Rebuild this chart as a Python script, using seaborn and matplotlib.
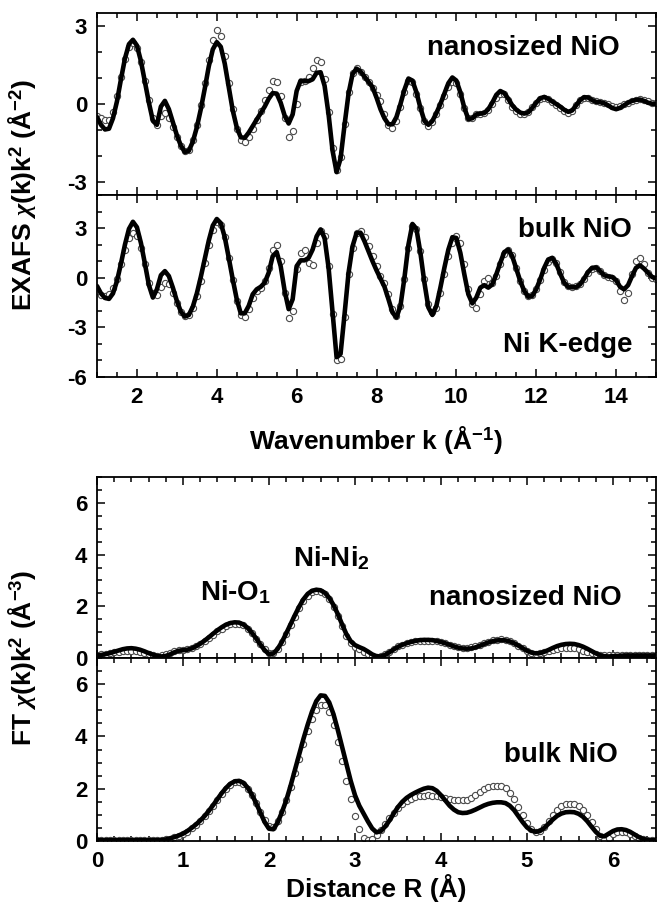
import numpy as np
import pandas as pd
import matplotlib
matplotlib.use("Agg")
import matplotlib.pyplot as plt
from matplotlib.ticker import MultipleLocator
import seaborn as sns

# ---------------- data ----------------
k_grid = np.round(np.arange(1.0, 15.05, 0.1), 2)
r_grid = np.round(np.arange(0.0, 6.501, 0.05), 2)

nano_fit_k = [
    -0.50, -0.80, -0.98, -0.95, -0.55, 0.10, 0.95, 1.75, 2.30, 2.47,
    2.25, 1.65, 0.85, 0.05, -0.65, -0.80, -0.10, 0.12, -0.20, -0.70,
    -1.20, -1.60, -1.85, -1.80, -1.45, -0.90, -0.20, 0.60, 1.45, 2.10,
    2.38, 2.20, 1.55, 0.65, -0.25, -0.90, -1.28, -1.30, -1.10, -0.85,
    -0.60, -0.35, -0.10, 0.20, 0.42, 0.40, 0.05, -0.45, -0.75, -0.40,
    0.50, 0.90, 0.88, 0.88, 0.95, 1.20, 1.22, 0.70, -0.40, -1.80,
    -2.62, -2.10, -0.80, 0.40, 1.15, 1.36, 1.25, 1.05, 0.85, 0.65,
    0.25, -0.20, -0.55, -0.78, -0.78, -0.50, 0.00, 0.55, 0.98, 0.90,
    0.45, -0.15, -0.65, -0.80, -0.65, -0.35, 0.00, 0.40, 0.80, 1.02,
    0.90, 0.45, -0.15, -0.58, -0.55, -0.40, -0.37, -0.35, -0.20, 0.05,
    0.35, 0.50, 0.42, 0.20, -0.05, -0.22, -0.33, -0.37, -0.32, -0.15,
    0.05, 0.22, 0.27, 0.20, 0.10, 0.00, -0.10, -0.22, -0.30, -0.25,
    -0.05, 0.15, 0.26, 0.25, 0.15, 0.08, 0.07, 0.03, -0.05, -0.15,
    -0.20, -0.15, -0.05, 0.05, 0.12, 0.16, 0.17, 0.12, 0.05, 0.01,
    0.00]

nano_dat_k = [
    -0.45, -0.55, -0.62, -0.60, -0.30, 0.30, 1.05, 1.75, 2.20, 2.35,
    2.15, 1.60, 0.90, 0.15, -0.55, -0.82, -0.45, -0.35, -0.55, -0.90,
    -1.25, -1.60, -1.82, -1.78, -1.40, -0.80, -0.05, 0.80, 1.70, 2.45,
    2.85, 2.60, 1.85, 0.80, -0.20, -0.95, -1.38, -1.45, -1.25, -0.95,
    -0.60, -0.25, 0.15, 0.55, 0.90, 0.85, 0.30, -0.55, -1.25, -1.05,
    0.00, 0.85, 0.90, 1.05, 1.40, 1.68, 1.60, 0.95, -0.30, -1.70,
    -2.55, -2.05, -0.75, 0.45, 1.20, 1.40, 1.25, 1.05, 0.85, 0.60,
    0.35, 0.10, -0.40, -0.80, -0.92, -0.65, -0.10, 0.45, 0.88, 0.85,
    0.40, -0.15, -0.65, -0.85, -0.70, -0.40, -0.05, 0.30, 0.65, 0.85,
    0.80, 0.40, -0.15, -0.55, -0.55, -0.40, -0.37, -0.33, -0.22, 0.00,
    0.25, 0.40, 0.38, 0.15, -0.10, -0.28, -0.37, -0.38, -0.30, -0.12,
    0.05, 0.18, 0.22, 0.18, 0.08, -0.05, -0.15, -0.28, -0.35, -0.25,
    -0.02, 0.15, 0.22, 0.22, 0.15, 0.10, 0.08, 0.05, 0.00, -0.08,
    -0.12, -0.08, 0.00, 0.05, 0.10, 0.15, 0.18, 0.15, 0.10, 0.05,
    0.02]

bulk_fit_k = [
    -0.50, -0.95, -1.22, -1.28, -0.95, -0.20, 0.85, 2.00, 2.95, 3.38,
    3.05, 2.10, 0.85, -0.45, -1.20, -0.70, 0.15, 0.40, 0.10, -0.60,
    -1.40, -2.05, -2.35, -2.25, -1.75, -0.95, 0.05, 1.15, 2.25, 3.15,
    3.55, 3.30, 2.45, 1.20, -0.10, -1.30, -2.15, -2.15, -1.70, -1.00,
    -0.70, -0.55, -0.30, 0.30, 1.30, 1.55, 0.70, -0.80, -1.90, -1.30,
    0.70, 1.05, 1.05, 1.20, 1.70, 2.50, 2.92, 2.40, 0.60, -2.10,
    -4.80, -4.60, -2.20, 0.30, 1.90, 2.70, 2.72, 2.20, 1.60, 1.00,
    0.45, -0.05, -0.55, -1.30, -2.10, -2.40, -1.70, 0.00, 2.00, 3.25,
    2.95, 1.50, -0.30, -1.80, -2.25, -1.70, -0.60, 0.60, 1.70, 2.45,
    2.40, 1.50, 0.20, -1.00, -1.55, -1.20, -0.60, -0.45, -0.60, -0.40,
    0.20, 0.90, 1.55, 1.70, 1.30, 0.55, -0.20, -0.80, -1.15, -1.10,
    -0.70, -0.10, 0.60, 1.10, 1.20, 0.85, 0.25, -0.30, -0.55, -0.58,
    -0.57, -0.40, -0.05, 0.35, 0.60, 0.62, 0.40, 0.15, 0.08, 0.05,
    -0.15, -0.55, -0.70, -0.45, 0.10, 0.60, 0.75, 0.55, 0.30, 0.05,
    -0.05]

bulk_dat_k = [
    -0.80, -1.05, -1.10, -1.00, -0.65, -0.05, 0.80, 1.65, 2.40, 2.70,
    2.50, 1.80, 0.80, -0.30, -0.95, -1.05, -0.55, -0.30, -0.40, -0.90,
    -1.50, -2.05, -2.30, -2.25, -1.80, -1.10, -0.20, 0.90, 2.00, 2.90,
    3.35, 3.20, 2.45, 1.20, -0.15, -1.40, -2.25, -2.40, -1.90, -1.20,
    -0.80, -0.60, -0.20, 0.60, 1.70, 2.00, 1.00, -0.90, -2.45, -2.00,
    0.50, 1.50, 1.65, 0.90, 0.75, 2.10, 2.85, 2.50, 0.70, -2.20,
    -5.00, -4.90, -2.40, 0.20, 1.80, 2.70, 2.85, 2.45, 1.90, 1.30,
    0.70, 0.10, -0.30, -1.00, -1.90, -2.30, -1.70, -0.10, 1.80, 3.10,
    2.95, 1.60, -0.10, -1.60, -2.10, -1.80, -0.90, 0.20, 1.30, 2.10,
    2.55, 2.10, 0.80, -0.70, -1.60, -1.80, -1.00, -0.20, 0.00, -0.30,
    0.10, 0.80, 1.45, 1.65, 1.35, 0.60, -0.20, -0.80, -1.10, -1.05,
    -0.70, -0.15, 0.45, 0.95, 1.15, 0.90, 0.35, -0.25, -0.50, -0.55,
    -0.50, -0.35, -0.05, 0.30, 0.55, 0.60, 0.40, 0.15, 0.05, 0.00,
    -0.20, -0.80, -1.35, -0.90, 0.20, 1.00, 1.20, 0.80, 0.30, 0.00,
    -0.10]

nano_fit_r = [
    0.10, 0.12, 0.15, 0.19, 0.24, 0.29, 0.34, 0.37, 0.38, 0.36,
    0.32, 0.26, 0.19, 0.13, 0.08, 0.06, 0.08, 0.14, 0.22, 0.28,
    0.30, 0.32, 0.37, 0.45, 0.55, 0.67, 0.80, 0.94, 1.07, 1.19,
    1.29, 1.35, 1.38, 1.37, 1.30, 1.17, 0.98, 0.76, 0.52, 0.30,
    0.15, 0.17, 0.35, 0.62, 0.95, 1.30, 1.65, 1.98, 2.27, 2.48,
    2.60, 2.64, 2.62, 2.52, 2.33, 2.05, 1.70, 1.30, 0.92, 0.65,
    0.50, 0.42, 0.35, 0.25, 0.14, 0.07, 0.06, 0.12, 0.22, 0.33,
    0.43, 0.51, 0.57, 0.62, 0.66, 0.69, 0.70, 0.70, 0.69, 0.66,
    0.62, 0.57, 0.51, 0.45, 0.40, 0.37, 0.36, 0.37, 0.41, 0.47,
    0.54, 0.60, 0.65, 0.68, 0.69, 0.68, 0.64, 0.57, 0.48, 0.38,
    0.28, 0.21, 0.18, 0.19, 0.24, 0.31, 0.39, 0.46, 0.51, 0.54,
    0.55, 0.54, 0.50, 0.44, 0.36, 0.27, 0.18, 0.11, 0.07, 0.06,
    0.07, 0.08, 0.09, 0.10, 0.10, 0.10, 0.10, 0.10, 0.10, 0.10,
    0.10]

nano_dat_r = [
    0.12, 0.14, 0.16, 0.19, 0.22, 0.25, 0.27, 0.28, 0.28, 0.26,
    0.23, 0.19, 0.15, 0.11, 0.09, 0.10, 0.14, 0.20, 0.26, 0.30,
    0.32, 0.34, 0.38, 0.45, 0.54, 0.65, 0.77, 0.90, 1.03, 1.14,
    1.23, 1.30, 1.33, 1.32, 1.26, 1.14, 0.96, 0.75, 0.53, 0.33,
    0.20, 0.20, 0.36, 0.62, 0.93, 1.27, 1.60, 1.92, 2.20, 2.41,
    2.54, 2.58, 2.56, 2.46, 2.27, 1.98, 1.62, 1.22, 0.85, 0.58,
    0.42, 0.33, 0.25, 0.16, 0.08, 0.04, 0.06, 0.14, 0.25, 0.36,
    0.45, 0.52, 0.57, 0.61, 0.64, 0.66, 0.67, 0.67, 0.66, 0.64,
    0.61, 0.57, 0.52, 0.47, 0.43, 0.40, 0.39, 0.41, 0.45, 0.51,
    0.57, 0.63, 0.68, 0.71, 0.72, 0.70, 0.65, 0.57, 0.47, 0.37,
    0.27, 0.20, 0.17, 0.18, 0.22, 0.27, 0.32, 0.36, 0.39, 0.40,
    0.40, 0.38, 0.34, 0.29, 0.23, 0.18, 0.14, 0.12, 0.11, 0.11,
    0.11, 0.11, 0.11, 0.11, 0.11, 0.11, 0.11, 0.11, 0.11, 0.11,
    0.11]

bulk_fit_r = [
    0.03, 0.03, 0.03, 0.03, 0.03, 0.03, 0.03, 0.03, 0.03, 0.03,
    0.03, 0.03, 0.03, 0.03, 0.03, 0.04, 0.06, 0.10, 0.15, 0.21,
    0.28, 0.38, 0.50, 0.63, 0.78, 0.95, 1.15, 1.37, 1.60, 1.83,
    2.03, 2.19, 2.28, 2.30, 2.23, 2.05, 1.78, 1.45, 1.08, 0.72,
    0.47, 0.45, 0.70, 1.10, 1.55, 2.10, 2.70, 3.30, 3.90, 4.45,
    4.95, 5.35, 5.57, 5.55, 5.30, 4.85, 4.25, 3.60, 2.95, 2.30,
    1.75, 1.35, 1.05, 0.75, 0.48, 0.33, 0.38, 0.55, 0.78, 1.05,
    1.30, 1.50, 1.65, 1.76, 1.85, 1.93, 2.00, 2.04, 2.02, 1.92,
    1.75, 1.55, 1.35, 1.20, 1.10, 1.07, 1.08, 1.13, 1.20, 1.28,
    1.36, 1.42, 1.46, 1.48, 1.48, 1.45, 1.35, 1.18, 0.95, 0.72,
    0.52, 0.40, 0.35, 0.38, 0.50, 0.66, 0.82, 0.96, 1.05, 1.10,
    1.11, 1.10, 1.04, 0.93, 0.76, 0.55, 0.35, 0.20, 0.18, 0.28,
    0.38, 0.44, 0.45, 0.42, 0.35, 0.25, 0.15, 0.08, 0.04, 0.03,
    0.03]

bulk_dat_r = [
    0.03, 0.03, 0.03, 0.03, 0.03, 0.03, 0.03, 0.03, 0.03, 0.03,
    0.03, 0.03, 0.03, 0.03, 0.03, 0.04, 0.06, 0.09, 0.14, 0.20,
    0.27, 0.36, 0.48, 0.62, 0.77, 0.94, 1.13, 1.35, 1.57, 1.80,
    2.00, 2.15, 2.24, 2.25, 2.18, 2.00, 1.75, 1.45, 1.12, 0.80,
    0.58, 0.55, 0.75, 1.10, 1.55, 2.05, 2.60, 3.15, 3.70, 4.20,
    4.65, 5.00, 5.22, 5.22, 4.95, 4.45, 3.80, 3.05, 2.30, 1.60,
    0.95, 0.45, 0.12, 0.02, 0.08, 0.22, 0.42, 0.65, 0.88, 1.08,
    1.25, 1.40, 1.52, 1.62, 1.68, 1.72, 1.74, 1.75, 1.74, 1.72,
    1.68, 1.64, 1.60, 1.57, 1.55, 1.55, 1.58, 1.65, 1.75, 1.86,
    1.97, 2.05, 2.10, 2.12, 2.10, 2.02, 1.85, 1.60, 1.30, 0.98,
    0.68, 0.45, 0.35, 0.40, 0.55, 0.78, 1.00, 1.20, 1.33, 1.40,
    1.42, 1.40, 1.32, 1.18, 0.98, 0.72, 0.45, 0.18, 0.02, 0.10,
    0.25, 0.33, 0.35, 0.33, 0.28, 0.20, 0.12, 0.06, 0.03, 0.02,
    0.02]

k_ticks = [2, 4, 6, 8, 10, 12, 14]
r_ticks = [0, 1, 2, 3, 4, 5, 6]

# ---------------- style ----------------
sns.set_theme(style="ticks")
plt.rcParams["font.family"] = ["Liberation Sans", "DejaVu Sans"]
plt.rcParams["font.weight"] = "bold"
plt.rcParams["mathtext.fontset"] = "custom"
plt.rcParams["mathtext.rm"] = "Liberation Sans:bold"
plt.rcParams["mathtext.bf"] = "Liberation Sans:bold"
plt.rcParams["mathtext.it"] = "Liberation Serif:italic"
plt.rcParams["axes.unicode_minus"] = False
plt.rcParams["axes.linewidth"] = 1.3
plt.rcParams["axes.edgecolor"] = "black"
for key in ("text.color", "axes.labelcolor", "xtick.color", "ytick.color"):
    plt.rcParams[key] = "black"

fig = plt.figure(figsize=(6.64, 9.18), dpi=100)
L, W = 97 / 664, 559 / 664
ax1 = fig.add_axes([L, 1 - 195 / 918, W, 182 / 918])
ax2 = fig.add_axes([L, 1 - 377 / 918, W, 182 / 918])
ax3 = fig.add_axes([L, 1 - 658 / 918, W, 181 / 918])
ax4 = fig.add_axes([L, 1 - 841 / 918, W, 183 / 918])

def draw(ax, x, dat, fit):
    df = pd.DataFrame({"x": x, "dat": dat, "fit": fit})
    sns.scatterplot(data=df, x="x", y="dat", ax=ax, marker="o", s=20,
                    facecolor="white", edgecolor="#4a4a4a", linewidth=0.8,
                    zorder=2, legend=False)
    sns.lineplot(data=df, x="x", y="fit", ax=ax, color="black", lw=3.3,
                 estimator=None, sort=False, zorder=3, legend=False)
    ax.set_xlabel("")
    ax.set_ylabel("")

draw(ax1, k_grid, nano_dat_k, nano_fit_k)
draw(ax2, k_grid, bulk_dat_k, bulk_fit_k)
draw(ax3, r_grid, nano_dat_r, nano_fit_r)
draw(ax4, r_grid, bulk_dat_r, bulk_fit_r)

for ax in (ax1, ax2):
    ax.set_xlim(1, 15)
    ax.set_xticks(k_ticks)
    ax.xaxis.set_minor_locator(MultipleLocator(0.5))
    ax.yaxis.set_minor_locator(MultipleLocator(1))
ax1.set_ylim(-3.5, 3.5)
ax1.set_yticks([-3, 0, 3])
ax2.set_ylim(-6, 5)
ax2.set_yticks([-6, -3, 0, 3])
for ax in (ax3, ax4):
    ax.set_xlim(0, 6.5)
    ax.set_xticks(r_ticks)
    ax.xaxis.set_minor_locator(MultipleLocator(0.2))
    ax.set_ylim(0, 7)
    ax.set_yticks([0, 2, 4, 6])
    ax.yaxis.set_minor_locator(MultipleLocator(0.5))

for ax in (ax1, ax2, ax3, ax4):
    ax.tick_params(which="both", direction="in", top=True, right=True,
                   width=1.1, color="black", labelsize=16, pad=7)
    ax.tick_params(which="major", length=6)
    ax.tick_params(which="minor", length=3.5)
    for lab in ax.get_xticklabels() + ax.get_yticklabels():
        lab.set_fontweight("bold")
ax1.tick_params(labelbottom=False)
ax3.tick_params(labelbottom=False)

ax2.set_xlabel(r"Wavenumber k (Å$^{\mathbf{-1}}$)", fontsize=19,
               fontweight="bold", labelpad=12)
ax4.set_xlabel("Distance R (Å)", fontsize=19, fontweight="bold", labelpad=2)

fig.text(22 / 664, 1 - 195 / 918, r"EXAFS $\chi$(k)k$^{\mathbf{2}}$ (Å$^{\mathbf{-2}}$)",
         rotation=90, ha="center", va="center", fontsize=19, fontweight="bold")
fig.text(22 / 664, 1 - 658 / 918, r"FT $\chi$(k)k$^{\mathbf{2}}$ (Å$^{\mathbf{-3}}$)",
         rotation=90, ha="center", va="center", fontsize=19, fontweight="bold")

tk = dict(fontsize=20, fontweight="bold", va="baseline")
ax1.text(14.1, 1.88, "nanosized NiO", ha="right", **tk)
ax2.text(14.4, 2.47, "bulk NiO", ha="right", **tk)
ax2.text(14.4, -4.46, "Ni K-edge", ha="right", **tk)
ax3.text(1.2, 2.24, r"Ni-O$_{\mathbf{1}}$", ha="left", **tk)
ax3.text(2.28, 3.56, r"Ni-Ni$_{\mathbf{2}}$", ha="left", **tk)
ax3.text(6.1, 2.05, "nanosized NiO", ha="right", **tk)
ax4.text(6.06, 3.04, "bulk NiO", ha="right", **tk)

fig.savefig("out.png", dpi=100)
